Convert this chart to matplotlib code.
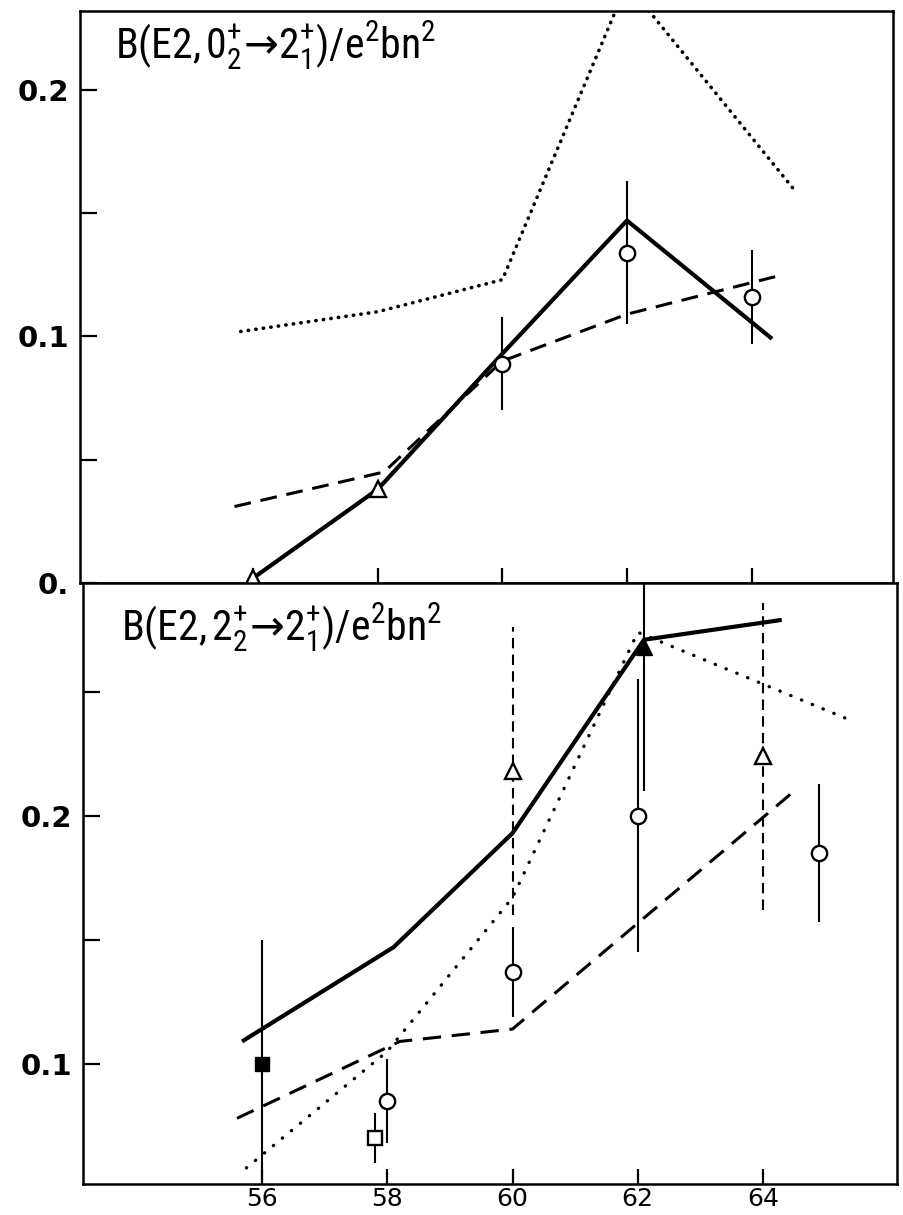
import numpy as np
import matplotlib.pyplot as plt
from matplotlib import font_manager

# fuente estrecha para los rotulos, si hay alguna instalada
avail = {f.name for f in font_manager.fontManager.ttflist}
narrow = [n for n in ['Roboto Condensed', 'Liberation Sans Narrow', 'DejaVu Sans Condensed',
                      'Open Sans Condensed', 'Noto Sans Condensed'] if n in avail]
if narrow:
    label_family, label_size = narrow[0], 30
else:
    label_family, label_size = 'Roboto', 27

plt.rcParams['font.family'] = ['DejaVu Sans']
plt.rcParams['mathtext.fontset'] = 'custom'
plt.rcParams['mathtext.rm'] = label_family
plt.rcParams['mathtext.it'] = label_family
plt.rcParams['mathtext.bf'] = label_family + ':bold'
plt.rcParams['mathtext.sf'] = 'DejaVu Sans'   # solo para la flecha

# ---- panel superior: B(E2, 0+2 -> 2+1)
top_tri_n = [56, 58]
top_tri_b = [0.002, 0.038]
top_circ_n = [60, 62, 64]
top_circ_b = [0.089, 0.134, 0.116]
top_circ_err = [0.019, 0.029, 0.019]
top_solid_n = [56, 58, 60, 62, 64.33]
top_solid_b = [0.002, 0.038, 0.093, 0.147, 0.099]
top_dash_n = [55.7, 58.1, 60, 62, 64.5]
top_dash_b = [0.031, 0.045, 0.090, 0.109, 0.125]
top_dot_n = [55.8, 58, 60, 62, 64.7]
top_dot_b = [0.102, 0.110, 0.123, 0.243, 0.159]

# ---- panel inferior: B(E2, 2+2 -> 2+1)
bot_fsq_n, bot_fsq_b, bot_fsq_err = [56], [0.100], [0.050]
bot_osq_n, bot_osq_b, bot_osq_err = [57.8], [0.070], [0.010]
bot_circ_n = [58, 60, 62, 64.9]
bot_circ_b = [0.085, 0.137, 0.200, 0.185]
bot_circ_err = [0.017, 0.018, 0.055, 0.028]
bot_otri_n = [60, 64]
bot_otri_b = [0.218, 0.224]
bot_otri_err = [0.058, 0.062]
bot_ftri_n, bot_ftri_b, bot_ftri_err = [62.1], [0.268], [0.058]
bot_solid_n = [55.68, 58.1, 60, 62.1, 64.3]
bot_solid_b = [0.109, 0.147, 0.193, 0.271, 0.279]
bot_dash_n = [55.6, 58.2, 60, 64.5]
bot_dash_b = [0.078, 0.109, 0.114, 0.210]
bot_dot_n = [55.75, 58, 60, 62, 65.45]
bot_dot_b = [0.058, 0.105, 0.167, 0.274, 0.238]

x_ticks = [56, 58, 60, 62, 64]

fig = plt.figure(figsize=(9.04, 12.15), dpi=100)
ax1 = fig.add_axes([0.0885, 0.5202, 0.8993, 0.4708])
ax2 = fig.add_axes([0.0918, 0.0255, 0.9004, 0.4947])

def style_axes(ax):
    for s in ax.spines.values():
        s.set_linewidth(1.8)
    ax.tick_params(axis='both', which='both', direction='in', width=1.6,
                   top=False, right=False)
    ax.tick_params(axis='y', which='both', length=12, pad=8)
    ax.tick_params(axis='x', which='both', length=11, pad=2)

err_kw = dict(fmt='none', ecolor='black', elinewidth=1.5, capsize=0)
open_kw = dict(linestyle='none', mfc='white', mec='black', mew=1.7, clip_on=False, zorder=5)

# ---------------- panel superior
ax = ax1
style_axes(ax)
ax.plot(top_solid_n, top_solid_b, color='black', lw=3.0, solid_capstyle='butt')
ax.plot(top_dash_n, top_dash_b, color='black', lw=2.2, dashes=(5.5, 3.2))
ax.plot(top_dot_n, top_dot_b, color='black', lw=2.6, dashes=(0.1, 2.0),
        dash_capstyle='round')
ax.errorbar(top_circ_n, top_circ_b, yerr=top_circ_err, **err_kw)
ax.plot(top_circ_n, top_circ_b, marker='o', ms=11, **open_kw)
ax.plot(top_tri_n, top_tri_b, marker='^', ms=12, **open_kw)
ax.set_xlim(53.22, 66.27)
ax.set_ylim(0.0, 0.232)
ax.set_xticks(x_ticks)
ax.set_xticklabels([])
ax.set_yticks([0.0, 0.1, 0.2])
ax.set_yticklabels(['0.', '0.1', '0.2'], fontsize=21, fontweight='bold')
ax.set_yticks([0.05, 0.15], minor=True)
ax.text(0.043, 0.985, r'B(E2,$\,0^{+}_{2}\!\mathsf{\rightarrow}\!2^{+}_{1}$)/e$^{2}$bn$^{2}$',
        transform=ax.transAxes, fontsize=label_size, va='top', ha='left',
        family=label_family)

# ---------------- panel inferior
ax = ax2
style_axes(ax)
ax.plot(bot_solid_n, bot_solid_b, color='black', lw=3.0, solid_capstyle='butt')
ax.plot(bot_dash_n, bot_dash_b, color='black', lw=2.2, dashes=(6.0, 3.5))
ax.plot(bot_dot_n, bot_dot_b, color='black', lw=2.4, dashes=(0.1, 3.4),
        dash_capstyle='round')
eb = ax.errorbar(bot_otri_n, bot_otri_b, yerr=bot_otri_err, **err_kw)
eb[2][0].set_linestyle((0, (5, 3)))
ax.errorbar(bot_circ_n, bot_circ_b, yerr=bot_circ_err, **err_kw)
ax.errorbar(bot_fsq_n, bot_fsq_b, yerr=bot_fsq_err, **err_kw)
ax.errorbar(bot_osq_n, bot_osq_b, yerr=bot_osq_err, **err_kw)
ax.errorbar(bot_ftri_n, bot_ftri_b, yerr=bot_ftri_err, **err_kw)
ax.plot(bot_circ_n, bot_circ_b, marker='o', ms=11, **open_kw)
ax.plot(bot_otri_n, bot_otri_b, marker='^', ms=12, **open_kw)
ax.plot(bot_osq_n, bot_osq_b, marker='s', ms=10, **open_kw)
ax.plot(bot_fsq_n, bot_fsq_b, marker='s', ms=10, linestyle='none', color='black', zorder=5)
ax.plot(bot_ftri_n, bot_ftri_b, marker='^', ms=12, linestyle='none', color='black', zorder=5)
ax.set_xlim(53.14, 66.14)
ax.set_ylim(0.0515, 0.2939)
ax.set_xticks(x_ticks)
ax.set_xticklabels([str(t) for t in x_ticks], fontsize=18)
ax.set_yticks([0.1, 0.2])
ax.set_yticklabels(['0.1', '0.2'], fontsize=21, fontweight='bold')
ax.set_yticks([0.15, 0.25], minor=True)
ax.text(0.047, 0.97, r'B(E2,$\,2^{+}_{2}\!\mathsf{\rightarrow}\!2^{+}_{1}$)/e$^{2}$bn$^{2}$',
        transform=ax.transAxes, fontsize=label_size, va='top', ha='left',
        family=label_family)

fig.savefig('out.png', dpi=100)
